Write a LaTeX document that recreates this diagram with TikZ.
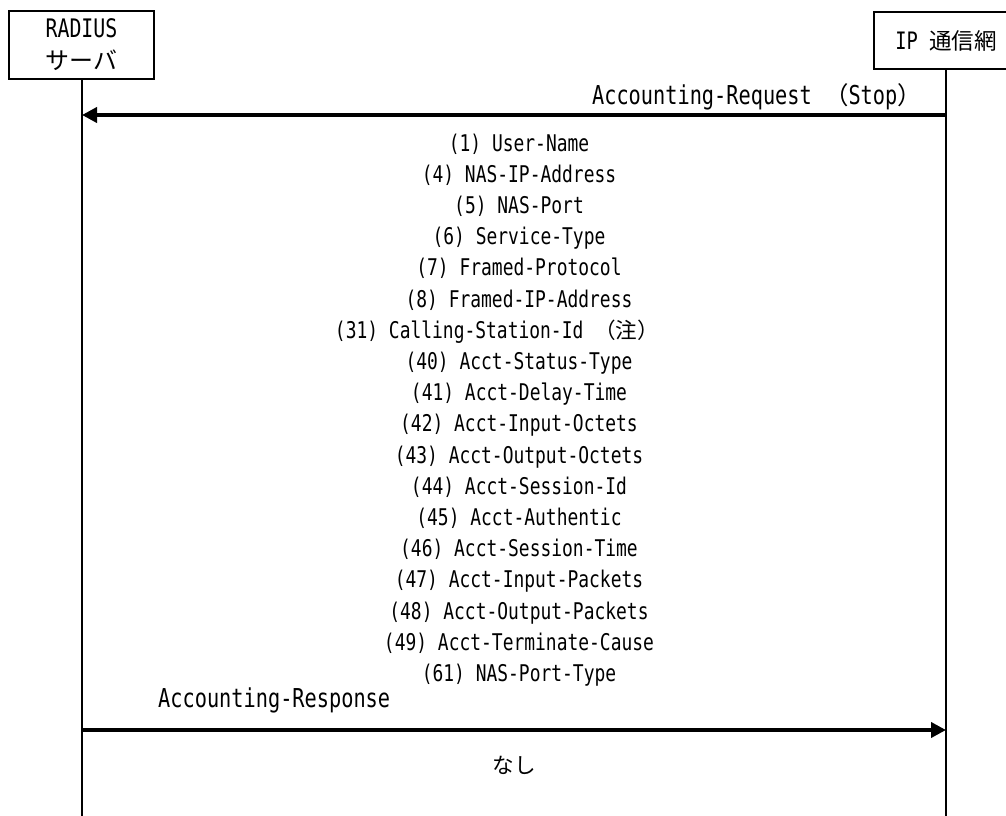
\documentclass[tikz,border=0pt]{standalone}
\usepackage{fontspec}
\setmainfont{DejaVu Sans Mono}[FakeStretch=0.78]
\newfontfamily\jp{Noto Sans CJK JP}[Scale=0.94]
\usetikzlibrary{arrows.meta}
\newcommand{\J}[1]{{\jp #1}}
\tikzset{
  actor/.style={draw,line width=2pt,inner sep=0pt,align=center,
    font=\fontsize{25.5}{32}\selectfont},
  life/.style={line width=2pt},
  msg/.style={line width=4pt,-{Triangle[length=15pt,width=15pt]}},
  lbl/.style={inner sep=0pt,font=\fontsize{26}{28}\selectfont},
  attr/.style={inner sep=0pt,anchor=base,font=\fontsize{23}{25}\selectfont}
}
\begin{document}
\begin{tikzpicture}[x=1pt,y=-1pt]
\useasboundingbox (0,0) rectangle (1006,816);
\clip (0,0) rectangle (1006,816);
\node[actor,minimum width=145pt,minimum height=68pt] (radius) at (81.5,45) {RADIUS\\\J{サーバ}};
\node[actor,minimum width=144pt,minimum height=57pt,font=\fontsize{24}{30}\selectfont] (ip) at (946,40.5) {IP \J{通信網}};
\coordinate (bottom) at (0,820);
\draw[life] (radius.south) -- (radius.south |- bottom);
\draw[life] (ip.south) -- (ip.south |- bottom);
% request
\coordinate (reqs) at (946,115);
\coordinate (reqe) at (82,115);
\draw[msg] (reqs) -- (reqe);
\node[lbl,anchor=base east] (reqlbl) at (922,104) {Accounting-Request \J{（}Stop\J{）}};
% attributes
\foreach \xx/\txt [count=\i] in {
  519/{(1) User-Name},
  519/{(4) NAS-IP-Address},
  519/{(5) NAS-Port},
  519/{(6) Service-Type},
  519/{(7) Framed-Protocol},
  519/{(8) Framed-IP-Address},
  497/{(31) Calling-Station-Id \J{（注）}},
  519/{(40) Acct-Status-Type},
  519/{(41) Acct-Delay-Time},
  519/{(42) Acct-Input-Octets},
  519/{(43) Acct-Output-Octets},
  519/{(44) Acct-Session-Id},
  519/{(45) Acct-Authentic},
  519/{(46) Acct-Session-Time},
  519/{(47) Acct-Input-Packets},
  519/{(48) Acct-Output-Packets},
  519/{(49) Acct-Terminate-Cause},
  519/{(61) NAS-Port-Type}}
  \node[attr] (attr\i) at (\xx,{151+(\i-1)*31.2}) {\txt};
% response
\node[lbl,anchor=base west] (reslbl) at (158,707) {Accounting-Response};
\coordinate (ress) at (82,730);
\coordinate (rese) at (946,730);
\draw[msg] (ress) -- (rese);
\node[attr,anchor=center] (none) at (514,765) {\J{なし}};
\end{tikzpicture}
\end{document}
